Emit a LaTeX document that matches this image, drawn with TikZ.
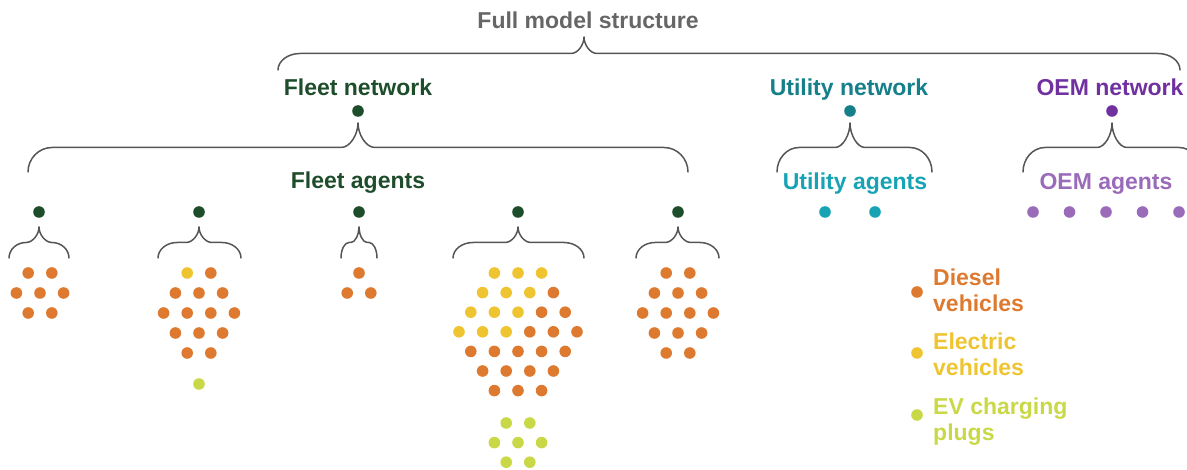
\documentclass[tikz,border=0pt]{standalone}
\usepackage{fontspec}
\setmainfont{Liberation Sans}
\usetikzlibrary{calc}

\definecolor{titlegray}{HTML}{666666}
\definecolor{fleetgreen}{HTML}{1E4D2B}
\definecolor{utilnet}{HTML}{16808A}
\definecolor{utilagent}{HTML}{18A3B5}
\definecolor{oemnet}{HTML}{7030A0}
\definecolor{oemagent}{HTML}{9A6BB8}
\definecolor{diesel}{HTML}{DE7A2F}
\definecolor{electric}{HTML}{EFC431}
\definecolor{plug}{HTML}{C9D846}
\definecolor{bracegray}{HTML}{555555}

\tikzset{
  heading/.style={font=\fontsize{23}{26}\selectfont\bfseries, inner sep=0pt, anchor=base},
  legendtext/.style={font=\fontsize{23}{26}\selectfont\bfseries, inner sep=0pt, anchor=base west, align=left},
  dot/.style={circle, inner sep=0pt, minimum size=11.6pt, draw=none},
  brace/.style={draw=bracegray, line width=1.5pt, line cap=round, line join=round}
}

% Curly brace hanging below a node:
% #1 node, #2 left end offset, #3 right end offset, #4 gap to tip,
% #5 half height, #6 end corner width, #7 tip corner width
\newcommand\curlybrace[7]{%
  \draw[brace] ($(#1)+(#2,#4+2*#5)$)
    .. controls ($(#1)+(#2,#4+1.45*#5)$) and ($(#1)+(#2+0.45*#6,#4+#5)$) .. ($(#1)+(#2+#6,#4+#5)$)
    -- ($(#1)+(-#7,#4+#5)$)
    .. controls ($(#1)+(-0.45*#7,#4+#5)$) and ($(#1)+(0,#4+0.45*#5)$) .. ($(#1)+(0,#4)$)
    .. controls ($(#1)+(0,#4+0.45*#5)$) and ($(#1)+(0.45*#7,#4+#5)$) .. ($(#1)+(#7,#4+#5)$)
    -- ($(#1)+(#3-#6,#4+#5)$)
    .. controls ($(#1)+(#3-0.45*#6,#4+#5)$) and ($(#1)+(#3,#4+1.45*#5)$) .. ($(#1)+(#3,#4+2*#5)$);}

% A centred row of dots: #1 name prefix, #2 centre x, #3 y, #4 colours
\newcommand\dotrow[4]{%
  \foreach \c [count=\i] in {#4} {\xdef\rowlen{\i}}%
  \foreach \c [count=\i] in {#4}
    \node[dot, fill=\c] (#1-\i) at ({#2+(\i-(\rowlen+1)/2)*23.6},#3) {};}

\begin{document}
\begin{tikzpicture}[x=1pt, y=-1pt]
  \useasboundingbox (0,0) rectangle (1187,470);
  \clip (0,0) rectangle (1187,470);

  % top level
  \node[heading, text=titlegray] (title) at (588,29) {Full model structure};
  \coordinate (structure) at (584,37);
  \curlybrace{structure}{-306}{596}{0}{16.5}{22}{13}

  % networks
  \node[heading, text=fleetgreen] (fleetlabel) at (358,96) {Fleet network};
  \node[heading, text=utilnet] (utillabel) at (849,96) {Utility network};
  \node[heading, text=oemnet] (oemlabel) at (1110,96) {OEM network};

  \node[dot, fill=fleetgreen] (fleetnet) at (358,111) {};
  \node[dot, fill=utilnet] (utilnet) at (850,111) {};
  \node[dot, fill=oemnet] (oemnet) at (1112,111) {};

  \curlybrace{fleetnet}{-330}{330}{12}{24.5}{24}{17}
  \curlybrace{utilnet}{-73}{82}{12}{24.5}{22}{15}
  \curlybrace{oemnet}{-89}{89}{12}{24.5}{22}{15}

  \node[heading, text=fleetgreen] (fleetagents) at (358,189) {Fleet agents};
  \node[heading, text=utilagent] (utilagents) at (855,190) {Utility agents};
  \node[heading, text=oemagent] (oemagents) at (1106,190) {OEM agents};

  % utility and OEM agents
  \node[dot, fill=utilagent] (u1) at (825,212) {};
  \node[dot, fill=utilagent] (u2) at (875,212) {};
  \foreach \x [count=\i] in {1033,1069.5,1106,1142.5,1179}
    \node[dot, fill=oemagent] (o\i) at (\x,212) {};

  % fleet agents
  \foreach \x [count=\i] in {39,199,359,518,678}
    \node[dot, fill=fleetgreen] (f\i) at (\x,212) {};

  \curlybrace{f1}{-30}{30}{15}{15.5}{17}{13}
  \curlybrace{f2}{-41}{42}{15}{15.5}{19}{13}
  \curlybrace{f3}{-18}{18}{15}{15.5}{8}{8}
  \curlybrace{f4}{-65}{66}{15}{15.5}{20}{13}
  \curlybrace{f5}{-42}{41}{15}{15.5}{19}{13}

  % vehicles and plugs of each fleet
  \dotrow{f1a}{40}{273}{diesel,diesel}
  \dotrow{f1b}{40}{293}{diesel,diesel,diesel}
  \dotrow{f1c}{40}{313}{diesel,diesel}

  \dotrow{f2a}{199}{273}{electric,diesel}
  \dotrow{f2b}{199}{293}{diesel,diesel,diesel}
  \dotrow{f2c}{199}{313}{diesel,diesel,diesel,diesel}
  \dotrow{f2d}{199}{333}{diesel,diesel,diesel}
  \dotrow{f2e}{199}{353}{diesel,diesel}
  \dotrow{f2p}{199}{384}{plug}

  \dotrow{f3a}{359}{273}{diesel}
  \dotrow{f3b}{359}{293}{diesel,diesel}

  \dotrow{f4a}{518}{273}{electric,electric,electric}
  \dotrow{f4b}{518}{292.6}{electric,electric,electric,diesel}
  \dotrow{f4c}{518}{312.2}{electric,electric,electric,diesel,diesel}
  \dotrow{f4d}{518}{331.8}{electric,electric,electric,diesel,diesel,diesel}
  \dotrow{f4e}{518}{351.4}{diesel,diesel,diesel,diesel,diesel}
  \dotrow{f4f}{518}{371}{diesel,diesel,diesel,diesel}
  \dotrow{f4g}{518}{390.6}{diesel,diesel,diesel}
  \dotrow{f4p}{518}{423}{plug,plug}
  \dotrow{f4q}{518}{442.6}{plug,plug,plug}
  \dotrow{f4r}{518}{462.2}{plug,plug}

  \dotrow{f5a}{678}{273}{diesel,diesel}
  \dotrow{f5b}{678}{293}{diesel,diesel,diesel}
  \dotrow{f5c}{678}{313}{diesel,diesel,diesel,diesel}
  \dotrow{f5d}{678}{333}{diesel,diesel,diesel}
  \dotrow{f5e}{678}{353}{diesel,diesel}

  % legend (node base sits on the second text line)
  \node[dot, fill=diesel] (kdiesel) at (917,292) {};
  \node[dot, fill=electric] (kelectric) at (917,353) {};
  \node[dot, fill=plug] (kplug) at (917,415) {};
  \node[legendtext, text=diesel] (tdiesel) at (933,312) {Diesel\\vehicles};
  \node[legendtext, text=electric] (telectric) at (933,376) {Electric\\vehicles};
  \node[legendtext, text=plug] (tplug) at (933,440) {EV charging\\plugs};
\end{tikzpicture}
\end{document}
